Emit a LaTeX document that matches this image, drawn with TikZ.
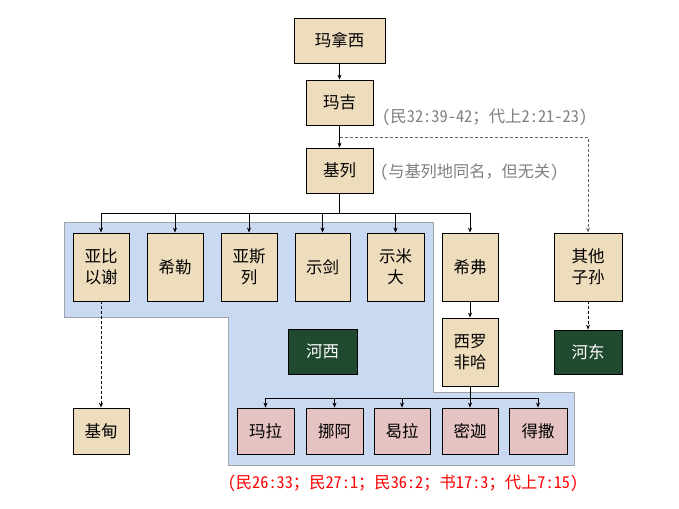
\documentclass[tikz,border=0pt]{standalone}
\usepackage{fontspec}
\newfontfamily\cjk{Noto Sans CJK SC}
\newfontfamily\cjkh[RawFeature=+hwid]{Noto Sans CJK SC}
\usetikzlibrary{arrows.meta}
\definecolor{beige}{HTML}{EEDDBD}
\definecolor{pinkb}{HTML}{E6C3C3}
\definecolor{greenb}{HTML}{21492F}
\definecolor{bluereg}{HTML}{C8D9F1}
\definecolor{regborder}{HTML}{A0A4AA}
\definecolor{notegray}{HTML}{808080}
\tikzset{
  bx/.style={draw=black, line width=0.8pt, fill=beige, align=center, inner sep=0pt,
     font=\cjk\fontsize{16.5}{21}\selectfont, text=black},
  pk/.style={bx, fill=pinkb},
  gr/.style={bx, fill=greenb, text=white},
  arr/.style={line width=0.8pt, -{Stealth[length=5pt,width=4pt]}},
  ln/.style={line width=0.8pt},
  dsh/.style={arr, dashed, dash pattern=on 3pt off 2pt},
  note/.style={text=notegray, anchor=west, inner sep=0pt},
}
\begin{document}
\begin{tikzpicture}[x=1pt,y=-1pt]
\useasboundingbox (0,0) rectangle (679,508);
\fill[white] (0,0) rectangle (679,508);
% blue region
\draw[fill=bluereg, draw=regborder, line width=0.8pt]
  (64,222) -- (433,222) -- (433,392) -- (574,392) -- (574,465) -- (228,465) -- (228,317) -- (64,317) -- cycle;
% nodes
\node[bx, minimum width=91, minimum height=45] (manaxi) at (339.5,40.5) {玛拿西};
\node[bx, minimum width=67, minimum height=45] (maji) at (339.5,102.5) {玛吉};
\node[bx, minimum width=67, minimum height=45] (jilie) at (339.5,170.5) {基列};
\node[note, font=\cjkh\fontsize{16.4}{18}\selectfont] (note1) at (382,117) {(民32:39-42；代上2:21-23)};
\node[note, font=\cjk\fontsize{16.2}{18}\selectfont] (note2) at (380,172) {{\cjkh(}与基列地同名，但无关{\cjkh)}};
\node[bx, minimum width=56, minimum height=68] (yabi) at (101,267) {亚比\\以谢};
\node[bx, minimum width=56, minimum height=68] (xile) at (175,267) {希勒};
\node[bx, minimum width=56, minimum height=68] (yasi) at (249,267) {亚斯\\列};
\node[bx, minimum width=55, minimum height=68] (shijian) at (322.5,267) {示剑};
\node[bx, minimum width=57, minimum height=68] (shimi) at (395.5,267) {示米\\大};
\node[bx, minimum width=56, minimum height=68] (xifu) at (470,267) {希弗};
\node[bx, minimum width=68, minimum height=68] (qita) at (588,267) {其他\\子孙};
\node[gr, minimum width=68, minimum height=44] (hedong) at (588,352) {河东};
\node[gr, minimum width=69, minimum height=45] (hexi) at (322.5,351.5) {河西};
\node[bx, minimum width=56, minimum height=68] (xiluo) at (470,352) {西罗\\非哈};
\node[bx, minimum width=56, minimum height=46] (jidian) at (101,431) {基甸};
\node[pk, minimum width=57, minimum height=46] (mala) at (265.5,431) {玛拉};
\node[pk, minimum width=57, minimum height=46] (nuoa) at (334.5,431) {挪阿};
\node[pk, minimum width=56, minimum height=46] (hela) at (402,431) {曷拉};
\node[pk, minimum width=56, minimum height=46] (mijia) at (470,431) {密迦};
\node[pk, minimum width=58, minimum height=46] (desa) at (538,431) {得撒};
\node[font=\cjkh\fontsize{16.3}{18}\selectfont, text=red, inner sep=0pt] (note3) at (403,483) {(民26:33；民27:1；民36:2；书17:3；代上7:15)};
% connectors
\draw[arr] (manaxi) -- (maji);
\draw[arr] (maji) -- (jilie);
\coordinate (dj) at (339.5,137);
\draw[dsh, draw=gray!80!black] (dj) -| (qita.north);
\draw[dsh] (qita) -- (hedong);
\draw[dsh] (yabi) -- (jidian);
\coordinate (bus1) at (339.5,213);
\draw[ln] (jilie.south) -- (bus1);
\foreach \n in {yabi,xile,yasi,shijian,shimi,xifu} {\draw[arr] (bus1) -| (\n.north);}
\draw[arr] (xifu) -- (xiluo);
\coordinate (bus2) at (470,398);
\draw[ln] (xiluo.south) -- (bus2);
\foreach \n in {mala,nuoa,hela,mijia,desa} {\draw[arr] (bus2) -| (\n.north);}
\end{tikzpicture}
\end{document}
